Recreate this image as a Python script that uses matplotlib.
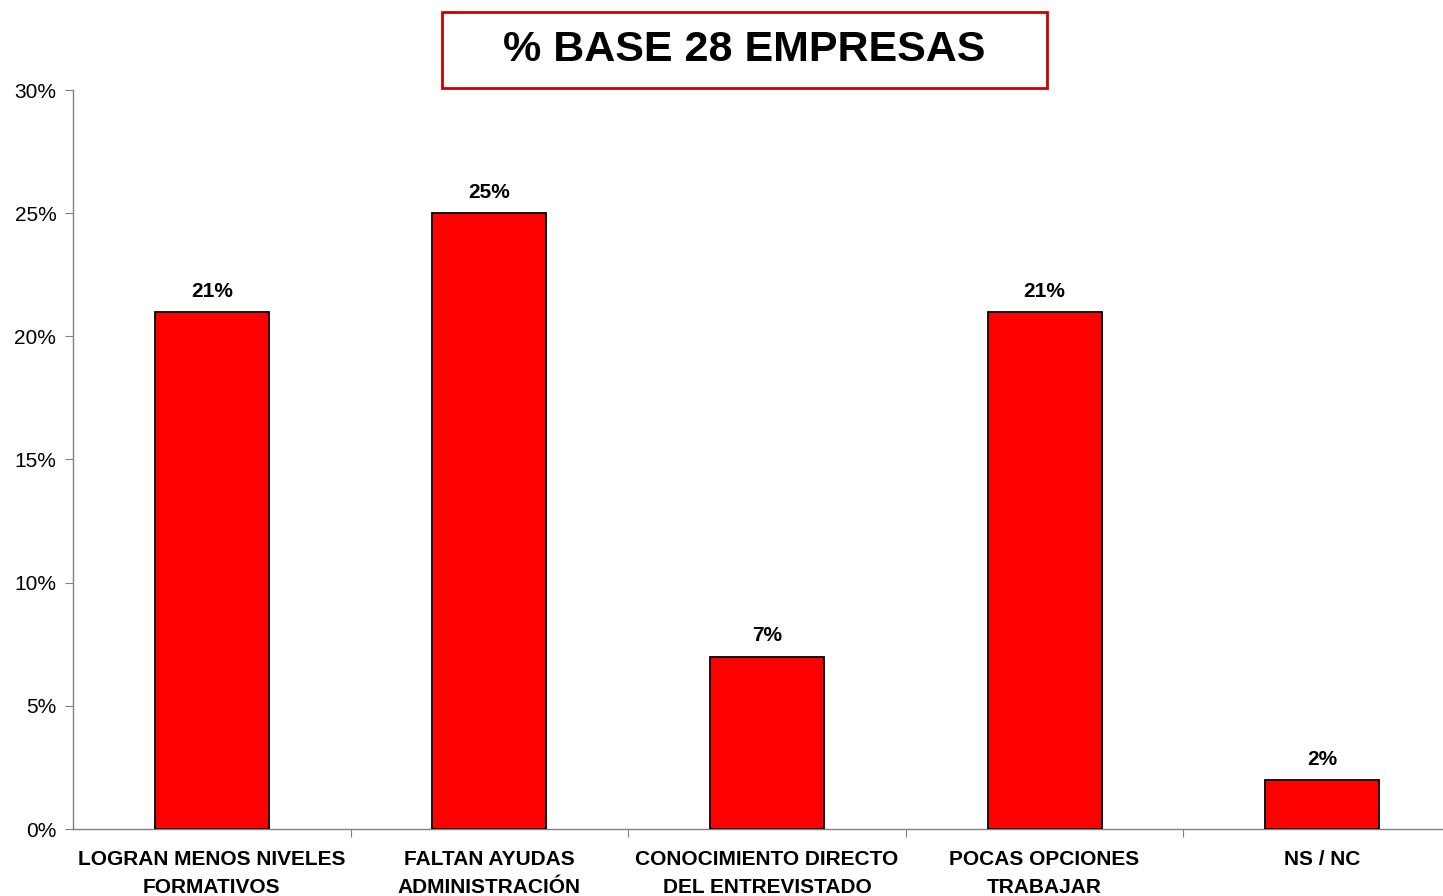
import matplotlib.pyplot as plt
from matplotlib.patches import Rectangle
from matplotlib.ticker import FuncFormatter, MultipleLocator

categories = [
    "LOGRAN MENOS NIVELES\nFORMATIVOS",
    "FALTAN AYUDAS\nADMINISTRACIÓN",
    "CONOCIMIENTO DIRECTO\nDEL ENTREVISTADO",
    "POCAS OPCIONES\nTRABAJAR",
    "NS / NC",
]
values = [21, 25, 7, 21, 2]
title = "% BASE 28 EMPRESAS"

W, H = 1443, 896


def make_figure():
    plt.rcParams['font.family'] = ['Liberation Sans', 'DejaVu Sans']
    fig = plt.figure(figsize=(W / 100, H / 100), dpi=100)
    # axis extends a bit past the right edge, like the original
    ax = fig.add_axes([73 / W, 67 / H, 1388 / W, 739 / H])
    return fig, ax


def add_bars(ax):
    x = range(len(values))
    ax.bar(x, values, width=0.41, color='#ff0000', edgecolor='black',
           linewidth=1.3, zorder=3)
    for xi, v in zip(x, values):
        ax.annotate(f"{v}%", (xi, v), xytext=(0, 8), textcoords='offset points',
                    ha='center', va='bottom', fontsize=15, fontweight='bold')


def setup_axes(ax):
    ax.set_xlim(-0.5, len(values) - 0.5)
    ax.set_ylim(0, 30)
    ax.yaxis.set_major_locator(MultipleLocator(5))
    ax.yaxis.set_major_formatter(FuncFormatter(lambda v, p: f"{v:.0f}%"))
    for s in ['top', 'right']:
        ax.spines[s].set_visible(False)
    for s in ['left', 'bottom']:
        ax.spines[s].set_color('#808080')
        ax.spines[s].set_linewidth(1.0)
    ax.tick_params(axis='y', direction='out', length=6, color='#808080',
                   labelsize=15, pad=6)
    ax.set_xticks([i + 0.5 for i in range(len(values) - 1)], minor=False)
    ax.set_xticklabels([])
    ax.tick_params(axis='x', which='major', direction='out', length=6,
                   color='#808080')
    ax.set_xticks(range(len(values)), minor=True)
    ax.set_xticklabels(categories, minor=True, fontsize=15,
                       fontweight='bold', linespacing=1.6)
    ax.tick_params(axis='x', which='minor', length=0, pad=15)


def add_title(fig):
    box = Rectangle((442 / W, 1 - 88 / H), (1047 - 442) / W, 76 / H,
                    transform=fig.transFigure, fill=False,
                    edgecolor='#cc0000', linewidth=2)
    fig.patches.append(box)
    fig.text((442 + 1047) / 2 / W, 1 - 50 / H, title, ha='center',
             va='center', fontsize=31, fontweight='bold')


fig, ax = make_figure()
setup_axes(ax)
add_bars(ax)
add_title(fig)
fig.savefig("out.png", dpi=100)
